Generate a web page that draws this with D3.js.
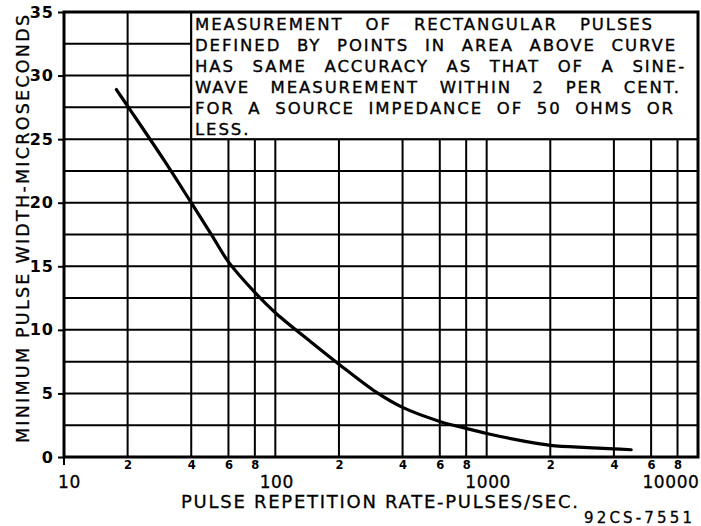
<!DOCTYPE html>
<html>
<head>
<meta charset="utf-8">
<script src="https://cdn.jsdelivr.net/npm/d3@7"></script>
<style>
  html, body { margin: 0; padding: 0; background: #fff; }
  svg { display: block; }
  text { font-family: "DejaVu Sans", sans-serif; fill: #000; }
</style>
</head>
<body>
<svg id="chart" width="701" height="526"></svg>
<script>
// ---- data ----
const rates  = [17.7, 20, 30, 40, 50, 60, 80, 100, 150, 200, 300, 400, 600, 800, 1000, 1500, 2000, 3000, 4000, 4830];
const widths = [28.9, 27.6, 23.25, 20.0, 17.45, 15.35, 12.95, 11.35, 8.95, 7.3, 5.1, 3.9, 2.8, 2.25, 1.85, 1.25, 0.92, 0.74, 0.64, 0.57];

const yTicks = [0, 5, 10, 15, 20, 25, 30, 35];
const yGrid = [2.5, 5, 7.5, 10, 12.5, 15, 17.5, 20, 22.5, 25, 27.5, 30, 32.5];
const xMajor = [10, 100, 1000, 10000];
const xMinor = [20, 40, 60, 80, 200, 400, 600, 800, 2000, 4000, 6000, 8000];
const xGrid = [20, 40, 60, 80, 100, 200, 400, 600, 800, 1000, 2000, 4000, 6000, 8000];
const minorLabels = ["2", "4", "6", "8", "2", "4", "6", "8", "2", "4", "6", "8"];

const noteLines = [
  "MEASUREMENT OF RECTANGULAR PULSES",
  "DEFINED BY POINTS IN AREA ABOVE CURVE",
  "HAS SAME ACCURACY AS THAT OF A SINE-",
  "WAVE MEASUREMENT WITHIN 2 PER CENT.",
  "FOR A SOURCE IMPEDANCE OF 50 OHMS OR",
  "LESS."
];
const noteEnds = [654, 677, 686, 681, 675, 256];

const xTitle = "PULSE REPETITION RATE-PULSES/SEC.";
const yTitle = "MINIMUM PULSE WIDTH-MICROSECONDS";
const figId = "92CS-7551";

// ---- layout ----
const L = 64, R = 698, T = 12, B = 457;
const svg = d3.select("#chart");
const x = d3.scaleLog().domain([10, 10000]).range([L, R]);
const y = d3.scaleLinear().domain([0, 35]).range([B, T]);

// grid
const g = svg.append("g");
g.selectAll("line.h").data(yGrid).join("line")
  .attr("x1", L).attr("x2", R)
  .attr("y1", d => y(d)).attr("y2", d => y(d))
  .attr("stroke", "#000").attr("stroke-width", 2);
g.selectAll("line.v").data(xGrid).join("line")
  .attr("x1", d => x(d)).attr("x2", d => x(d))
  .attr("y1", T).attr("y2", B)
  .attr("stroke", "#000").attr("stroke-width", 2);

// note box (covers grid)
const boxL = x(40), boxB = y(25);
svg.append("rect").attr("x", boxL).attr("y", T).attr("width", R - boxL).attr("height", boxB - T)
  .attr("fill", "#fff").attr("stroke", "#000").attr("stroke-width", 2);

const noteBase = [30, 51, 72, 93, 114, 135];
const noteX = 195;
const notes = svg.append("g").selectAll("text").data(noteLines).join("text")
  .attr("x", noteX)
  .attr("y", (d, i) => noteBase[i])
  .attr("font-size", 16.5)
  .attr("letter-spacing", 1.9)
  .attr("stroke", "#000").attr("stroke-width", 0.35)
  .text(d => d);
// spread words so each line ends where it does in the original
notes.each(function(d, i) {
  const len = this.getComputedTextLength();
  const nSp = (d.match(/ /g) || []).length;
  if (nSp > 0) {
    const ws = (noteEnds[i] - noteX - len) / nSp;
    d3.select(this).attr("word-spacing", ws);
  }
});

// curve
const pts = rates.map((r, i) => [x(r), y(widths[i])]);
svg.append("path")
  .attr("d", d3.line().curve(d3.curveCatmullRom.alpha(0.5))(pts))
  .attr("fill", "none").attr("stroke", "#000").attr("stroke-width", 3.2)
  .attr("stroke-linecap", "round");

// frame
svg.append("rect").attr("x", L).attr("y", T).attr("width", R - L).attr("height", B - T)
  .attr("fill", "none").attr("stroke", "#000").attr("stroke-width", 3);

// y axis
const ya = svg.append("g").attr("transform", `translate(${L},0)`)
  .call(d3.axisLeft(y).tickValues(yTicks).tickSize(6).tickPadding(4).tickFormat(d3.format("d")));
ya.select(".domain").remove();
ya.selectAll(".tick line").attr("stroke", "#000").attr("stroke-width", 2);
ya.selectAll(".tick text").attr("font-size", 16).attr("font-weight", "bold")
  .attr("font-family", "DejaVu Sans").attr("letter-spacing", 1).attr("fill", "#000");

// x axis minor labels
const xa = svg.append("g").attr("transform", `translate(0,${B})`)
  .call(d3.axisBottom(x).tickValues(xMinor).tickSize(0).tickPadding(4)
    .tickFormat((d, i) => minorLabels[i]));
xa.select(".domain").remove();
xa.selectAll(".tick text").attr("font-size", 11.5).attr("font-weight", "bold")
  .attr("font-family", "DejaVu Sans").attr("fill", "#000");

// x axis major labels
const xb = svg.append("g").attr("transform", `translate(0,${B})`)
  .call(d3.axisBottom(x).tickValues(xMajor).tickSize(0).tickPadding(19).tickFormat(d3.format("d")));
xb.select(".domain").remove();
xb.selectAll(".tick text").attr("font-size", 17)
  .attr("font-family", "DejaVu Sans").attr("fill", "#000")
  .attr("stroke", "#000").attr("stroke-width", 0.3)
  .attr("letter-spacing", 0.6)
  .attr("text-anchor", d => d === 10000 ? "end" : "middle")
  .attr("dx", d => d === 10 ? 5 : 1);

// left axis stub at bottom
svg.append("line").attr("x1", L).attr("x2", L).attr("y1", B).attr("y2", B + 8)
  .attr("stroke", "#000").attr("stroke-width", 2);

// titles
svg.append("text").attr("x", 181).attr("y", 508)
  .attr("textLength", 578 - 181).attr("lengthAdjust", "spacing")
  .attr("stroke", "#000").attr("stroke-width", 0.3)
  .attr("font-size", 18).text(xTitle);

svg.append("text").attr("transform", "translate(29,443) rotate(-90)")
  .attr("x", 0).attr("y", 0)
  .attr("textLength", 443 - 15).attr("lengthAdjust", "spacing")
  .attr("stroke", "#000").attr("stroke-width", 0.3)
  .attr("font-size", 17.5).text(yTitle);

svg.append("text").attr("x", 584).attr("y", 523)
  .attr("textLength", 692 - 584).attr("lengthAdjust", "spacing")
  .attr("stroke", "#000").attr("stroke-width", 0.3)
  .attr("font-size", 15).text(figId);
</script>
</body>
</html>
